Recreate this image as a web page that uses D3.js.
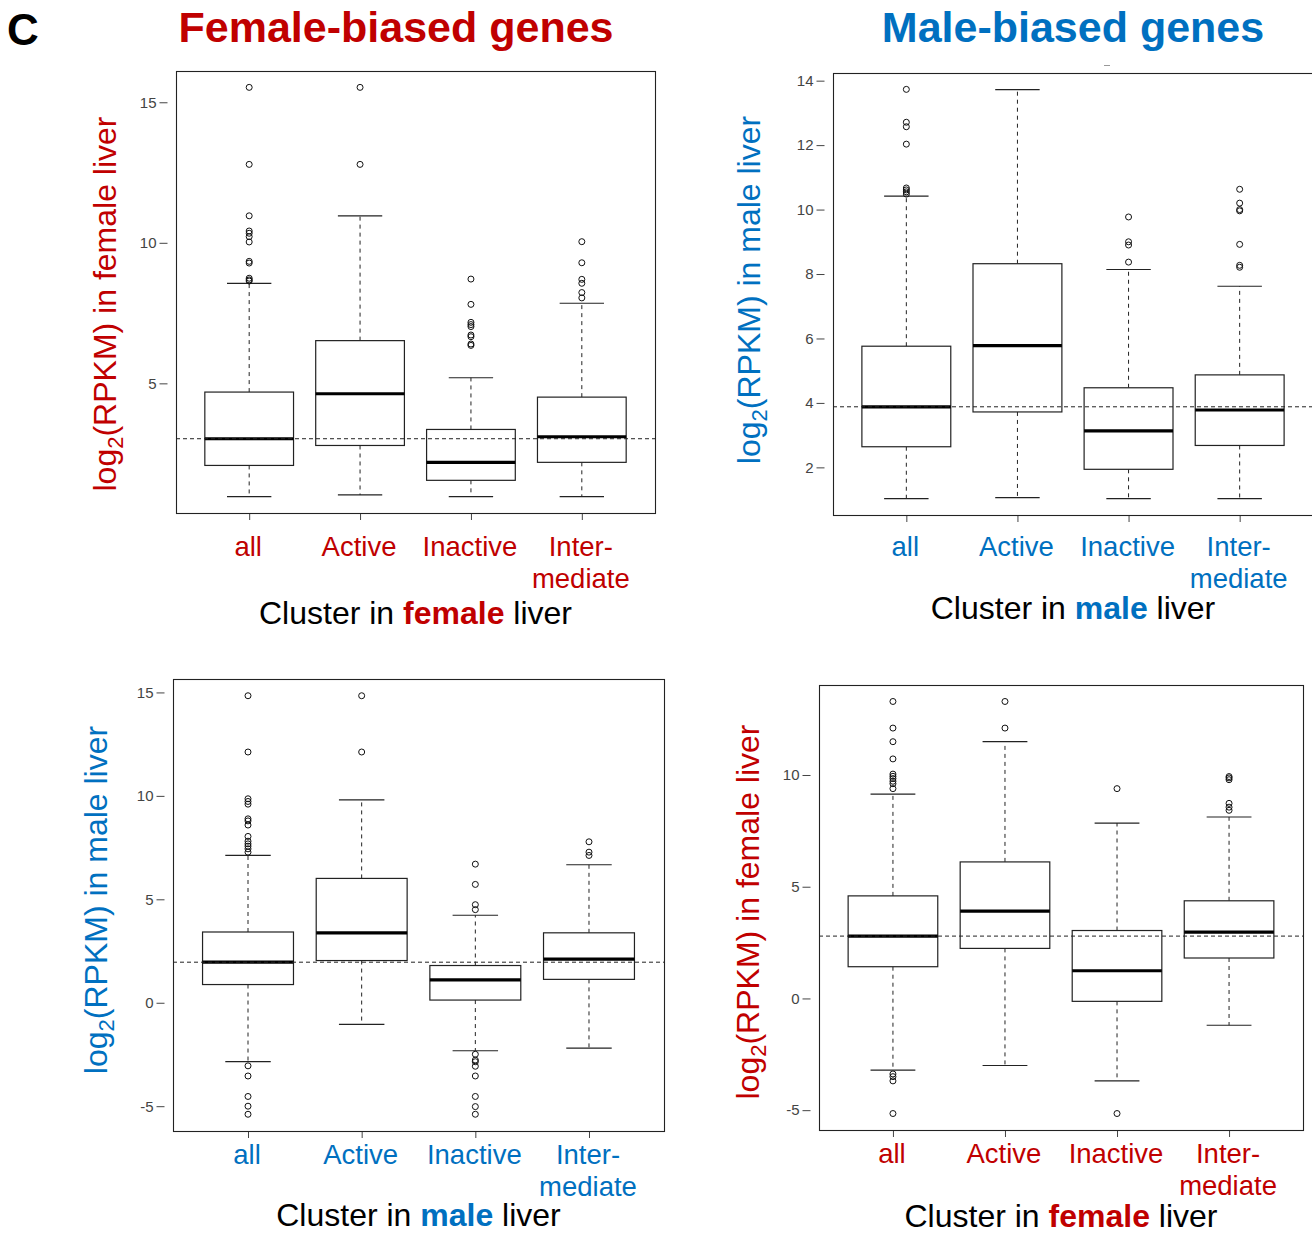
<!DOCTYPE html>
<html><head><meta charset="utf-8">
<script src="https://cdn.jsdelivr.net/npm/d3@7/dist/d3.min.js"></script>
<style>
html,body{margin:0;padding:0;background:#fff;}
svg text{font-family:"Liberation Sans",Arial,Helvetica,sans-serif;}
</style></head>
<body><svg id="c" width="1312" height="1235"></svg>
<script>
// ---------- data ----------
const categories = [["all"],["Active"],["Inactive"],["Inter-","mediate"]];
// box stats: [lower whisker, Q1, median, Q3, upper whisker]
const p1Stats = [[0.97,2.08,3.03,4.69,8.56],[1.03,2.79,4.63,6.52,10.96],[0.97,1.55,2.19,3.36,5.20],[0.97,2.19,3.10,4.51,7.85]];
const p1Out = [[15.53,12.79,10.96,10.42,10.34,10.22,10.03,9.34,9.28,8.74,8.68,8.64],[15.53,12.79],[8.71,7.81,7.17,7.09,7.02,6.72,6.66,6.40,6.35],[10.04,9.29,8.70,8.56,8.23,8.04]];
const p1Ref = 3.03;
const p1Ticks = [5,10,15];

const p2Stats = [[1.03,2.64,3.88,5.76,10.42],[1.06,3.72,5.78,8.32,13.72],[1.03,1.94,3.13,4.47,8.14],[1.03,2.68,3.78,4.87,7.62]];
const p2Out = [[13.73,12.71,12.57,12.03,10.67,10.61,10.55,10.48],[],[9.77,9.00,8.90,8.37],[10.63,10.20,10.00,9.96,8.92,8.27,8.21]];
const p2Ref = 3.88;
const p2Ticks = [2,4,6,8,10,12,14];

const p3Stats = [[-2.85,0.88,1.96,3.42,7.12],[-1.05,2.04,3.38,6.01,9.81],[-2.32,0.13,1.11,1.80,4.23],[-2.19,1.13,2.11,3.38,6.67]];
const p3Out = [[14.84,12.12,9.86,9.73,9.60,8.89,8.79,8.59,8.04,7.81,7.68,7.57,7.44,7.28,-3.05,-3.54,-4.53,-5.00,-5.39],[14.84,12.12],[6.70,5.72,4.74,4.50,-2.49,-2.77,-2.85,-3.07,-3.54,-4.53,-5.02,-5.39],[7.78,7.28,7.12]];
const p3Ref = 1.96;
const p3Ticks = [-5,0,5,10,15];

const p4Stats = [[-3.21,1.42,2.79,4.59,9.14],[-3.00,2.24,3.91,6.11,11.49],[-3.69,-0.13,1.24,3.04,7.85],[-1.20,1.81,2.97,4.37,8.12]];
const p4Out = [[13.29,12.10,11.49,10.72,10.04,9.94,9.84,9.72,9.61,9.39,-3.38,-3.50,-3.69,-5.15],[13.29,12.10],[9.39,-5.15],[9.93,9.87,9.79,8.73,8.56,8.42]];
const p4Ref = 2.79;
const p4Ticks = [-5,0,5,10];

const RED = "#c00000", BLUE = "#0070c0";

// ---------- layout ----------
const panels = [
  {stats:p1Stats, out:p1Out, ref:p1Ref, ticks:p1Ticks, x0:176, x1:655, y0:71, y1:513, color:RED, liver:"female", yl:{x:116, y:304}, rows:[556,588], title:624},
  {stats:p2Stats, out:p2Out, ref:p2Ref, ticks:p2Ticks, x0:833, x1:1313, y0:73, y1:515, color:BLUE, liver:"male", yl:{x:760, y:290}, rows:[556,588], title:619},
  {stats:p3Stats, out:p3Out, ref:p3Ref, ticks:p3Ticks, x0:173, x1:664, y0:679, y1:1131, color:BLUE, liver:"male", yl:{x:107, y:900}, rows:[1164,1196], title:1226},
  {stats:p4Stats, out:p4Out, ref:p4Ref, ticks:p4Ticks, x0:819, x1:1303, y0:685, y1:1130, color:RED, liver:"female", yl:{x:759, y:912}, rows:[1163,1195], title:1227}
];

const svg = d3.select("#c");

// headers
svg.append("text").attr("x",7).attr("y",45).attr("font-size",44).attr("font-weight","bold").attr("fill","#000").text("C");
svg.append("text").attr("x",396).attr("y",42).attr("text-anchor","middle").attr("font-size",43).attr("font-weight","bold").attr("fill",RED).text("Female-biased genes");
svg.append("text").attr("x",1073).attr("y",42).attr("text-anchor","middle").attr("font-size",43).attr("font-weight","bold").attr("fill",BLUE).text("Male-biased genes");
svg.append("line").attr("x1",1104).attr("x2",1110).attr("y1",65.5).attr("y2",65.5).attr("stroke","#999").attr("stroke-width",1);

panels.forEach(p => {
  const g = svg.append("g");
  const allVals = [];
  p.stats.forEach(s => allVals.push(...s));
  p.out.forEach(o => allVals.push(...o));
  const mn = d3.min(allVals), mx = d3.max(allVals), pad = (mx - mn) * 0.04;
  const y = d3.scaleLinear().domain([mn - pad, mx + pad]).range([p.y1, p.y0]);
  const x = d3.scaleLinear().domain([0.34, 4.66]).range([p.x0, p.x1]);
  const u = x(1) - x(0);

  // y axis (ticks detached from frame)
  const ya = g.append("g").attr("transform", `translate(${p.x0 - 8.5},0)`)
    .call(d3.axisLeft(y).tickValues(p.ticks).tickSize(8).tickPadding(3).tickFormat(d => String(d)));
  ya.select(".domain").remove();
  ya.selectAll("line").attr("stroke","#444");
  ya.selectAll("text").attr("font-size",15).attr("fill","#444").attr("font-family","Liberation Sans, Arial, sans-serif");

  // x axis ticks
  const xa = g.append("g").attr("transform", `translate(0,${p.y1})`)
    .call(d3.axisBottom(x).tickValues([1,2,3,4]).tickSize(7).tickFormat(""));
  xa.select(".domain").remove();
  xa.selectAll("line").attr("stroke","#444");

  p.stats.forEach((s, i) => {
    const cx = x(i + 1);
    const [lo, q1, md, q3, hi] = s;
    // whiskers
    g.append("line").attr("x1",cx).attr("x2",cx).attr("y1",y(q3)).attr("y2",y(hi)).attr("stroke","#222").attr("stroke-dasharray","4,4");
    g.append("line").attr("x1",cx).attr("x2",cx).attr("y1",y(q1)).attr("y2",y(lo)).attr("stroke","#222").attr("stroke-dasharray","4,4");
    [lo, hi].forEach(v => g.append("line").attr("x1",cx - 0.2*u).attr("x2",cx + 0.2*u).attr("y1",y(v)).attr("y2",y(v)).attr("stroke","#222").attr("stroke-width",1.2));
    // box
    g.append("rect").attr("x",cx - 0.4*u).attr("width",0.8*u).attr("y",y(q3)).attr("height",y(q1) - y(q3))
      .attr("fill","#fff").attr("stroke","#222").attr("stroke-width",1.2);
    g.append("line").attr("x1",cx - 0.4*u).attr("x2",cx + 0.4*u).attr("y1",y(md)).attr("y2",y(md)).attr("stroke","#000").attr("stroke-width",3.2);
    // outliers
    g.selectAll(null).data(p.out[i]).enter().append("circle")
      .attr("cx",cx).attr("cy",d => y(d)).attr("r",3).attr("fill","none").attr("stroke","#111").attr("stroke-width",1);
    // category label
    const t = g.append("text").attr("text-anchor","middle").attr("font-size",27.5).attr("fill",p.color);
    categories[i].forEach((line, k) => t.append("tspan").attr("x",cx - 1).attr("y",p.rows[k]).text(line));
  });

  // reference line over boxes
  g.append("line").attr("x1",p.x0).attr("x2",p.x1).attr("y1",y(p.ref)).attr("y2",y(p.ref))
    .attr("stroke","#222").attr("stroke-width",1).attr("stroke-dasharray","4,3");

  // frame
  g.append("rect").attr("x",p.x0 + 0.5).attr("y",p.y0 + 0.5).attr("width",p.x1 - p.x0).attr("height",p.y1 - p.y0)
    .attr("fill","none").attr("stroke","#222").attr("stroke-width",1.1);

  // y label
  const yl = g.append("text").attr("transform",`translate(${p.yl.x},${p.yl.y}) rotate(-90)`)
    .attr("text-anchor","middle").attr("font-size",32).attr("fill",p.color);
  yl.append("tspan").text("log");
  yl.append("tspan").attr("font-size",22).attr("dy",7).text("2");
  yl.append("tspan").attr("dy",-7).text(`(RPKM) in ${p.liver} liver`);

  // x title
  const xt = g.append("text").attr("x",(p.x0 + p.x1)/2).attr("y",p.title).attr("text-anchor","middle").attr("font-size",32).attr("fill","#000");
  xt.append("tspan").text("Cluster in ");
  xt.append("tspan").attr("font-weight","bold").attr("fill",p.color).text(p.liver);
  xt.append("tspan").text(" liver");
});
</script></body></html>
